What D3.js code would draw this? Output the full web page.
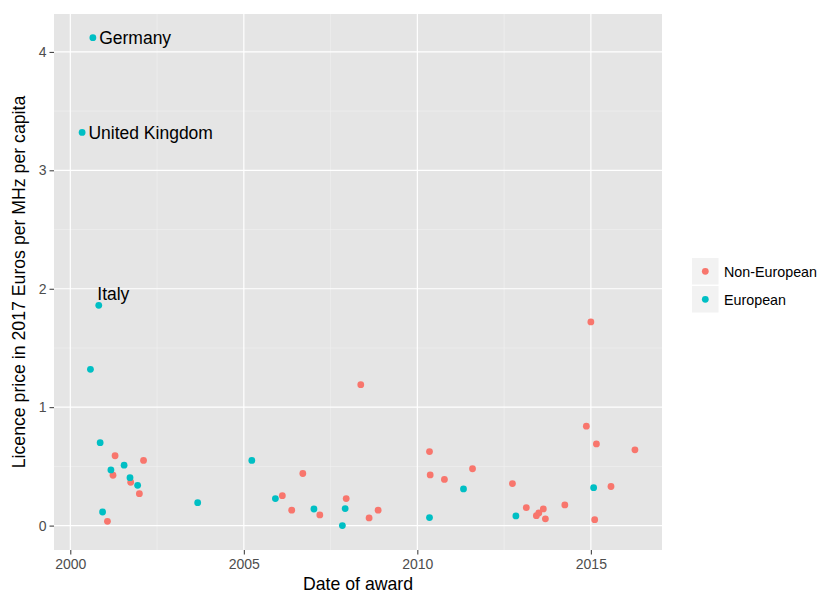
<!DOCTYPE html>
<html>
<head>
<meta charset="utf-8">
<script src="https://cdn.jsdelivr.net/npm/d3@7"></script>
<style>
  body { margin: 0; background: #fff; }
  text { font-family: "Liberation Sans", Arial, Helvetica, sans-serif; }
</style>
</head>
<body>
<div id="chart"></div>
<script>
// data (decimal year of award, price)
const euroYears  = [2000.65, 2000.34, 2000.82, 2000.58, 2000.86, 2001.17, 2001.55, 2001.72, 2001.94, 2000.93,
                    2003.67, 2005.23, 2005.91, 2007.02, 2007.92, 2007.84, 2010.35, 2011.33, 2012.84, 2015.08];
const euroPrices = [4.12, 3.32, 1.86, 1.32, 0.70, 0.47, 0.51, 0.405, 0.34, 0.115,
                    0.194, 0.55, 0.228, 0.14, 0.144, 0.0, 0.068, 0.31, 0.082, 0.32];
const euroNames  = ['Germany', 'United Kingdom', 'Italy'];

const nonEuroYears  = [2001.29, 2001.23, 2001.74, 2001.99, 2002.11, 2001.07, 2006.11, 2006.38, 2006.70, 2007.19,
                       2008.37, 2007.95, 2008.61, 2008.87, 2010.35, 2010.37, 2010.78, 2011.59, 2012.74, 2013.14,
                       2013.43, 2013.50, 2013.63, 2013.69, 2014.25, 2014.87, 2015.16, 2015.11, 2015.58, 2016.27, 2015.00];
const nonEuroPrices = [0.59, 0.425, 0.366, 0.27, 0.55, 0.036, 0.253, 0.13, 0.44, 0.09,
                       1.19, 0.228, 0.065, 0.13, 0.625, 0.428, 0.39, 0.48, 0.355, 0.152,
                       0.084, 0.107, 0.141, 0.057, 0.175, 0.84, 0.69, 0.05, 0.33, 0.64, 1.72];

const groups = ['Non-European', 'European'];
const groupColors = ['#F8766D', '#00BFC4'];
const xTicks = [2000, 2005, 2010, 2015];
const xMinor = [2002.5, 2007.5, 2012.5];
const yTicks = [0, 1, 2, 3, 4];
const yMinor = [0.5, 1.5, 2.5, 3.5];

const w = 818, h = 592;
const panel = { left: 54, right: 662, top: 14, bottom: 550 };

const svg = d3.select('#chart')
  .append('svg')
  .attr('width', w)
  .attr('height', h)
  .style('background-color', '#fff');

const xScale = d3.scaleLinear().domain([1999.53, 2017.05]).range([panel.left, panel.right]);
const yScale = d3.scaleLinear().domain([-0.206, 4.32]).range([panel.bottom, panel.top]);
const color = d3.scaleOrdinal().domain(groups).range(groupColors);

// panel background
svg.append('rect')
  .attr('x', panel.left).attr('y', panel.top)
  .attr('width', panel.right - panel.left)
  .attr('height', panel.bottom - panel.top)
  .attr('fill', '#E5E5E5');

// grid
const grid = svg.append('g');
grid.selectAll('.xminor').data(xMinor).enter().append('line')
  .attr('x1', d => xScale(d)).attr('x2', d => xScale(d))
  .attr('y1', panel.top).attr('y2', panel.bottom)
  .attr('stroke', '#F2F2F2').attr('stroke-width', 0.6);
grid.selectAll('.yminor').data(yMinor).enter().append('line')
  .attr('y1', d => yScale(d)).attr('y2', d => yScale(d))
  .attr('x1', panel.left).attr('x2', panel.right)
  .attr('stroke', '#F2F2F2').attr('stroke-width', 0.6);
grid.selectAll('.xmajor').data(xTicks).enter().append('line')
  .attr('x1', d => xScale(d)).attr('x2', d => xScale(d))
  .attr('y1', panel.top).attr('y2', panel.bottom)
  .attr('stroke', '#fff').attr('stroke-width', 1.2);
grid.selectAll('.ymajor').data(yTicks).enter().append('line')
  .attr('y1', d => yScale(d)).attr('y2', d => yScale(d))
  .attr('x1', panel.left).attr('x2', panel.right)
  .attr('stroke', '#fff').attr('stroke-width', 1.2);

// axes
const xAxis = d3.axisBottom(xScale).tickValues(xTicks).tickFormat(d3.format('d')).tickSizeInner(4.5).tickSizeOuter(0).tickPadding(4.5);
const yAxis = d3.axisLeft(yScale).tickValues(yTicks).tickFormat(d3.format('d')).tickSizeInner(4.5).tickSizeOuter(0).tickPadding(3);

svg.append('g')
  .attr('transform', 'translate(0,' + panel.bottom + ')')
  .call(xAxis)
  .call(g => g.select('.domain').remove())
  .call(g => g.selectAll('line').attr('stroke', '#333'))
  .call(g => g.selectAll('text').attr('fill', '#4D4D4D').style('font-size', '14px'));

svg.append('g')
  .attr('transform', 'translate(' + panel.left + ',0)')
  .call(yAxis)
  .call(g => g.select('.domain').remove())
  .call(g => g.selectAll('line').attr('stroke', '#333'))
  .call(g => g.selectAll('text').attr('fill', '#4D4D4D').style('font-size', '14px'));

// axis titles
svg.append('text')
  .attr('x', (panel.left + panel.right) / 2)
  .attr('y', 589.5)
  .attr('text-anchor', 'middle')
  .style('font-size', '17.7px')
  .text('Date of award');

svg.append('text')
  .attr('transform', 'translate(25,' + ((panel.top + panel.bottom) / 2) + ') rotate(-90)')
  .attr('text-anchor', 'middle')
  .style('font-size', '17.7px')
  .text('Licence price in 2017 Euros per MHz per capita');

// points
const nonEuro = nonEuroYears.map((y, i) => ({ year: y, price: nonEuroPrices[i], group: 'Non-European' }));
const euro = euroYears.map((y, i) => ({ year: y, price: euroPrices[i], group: 'European', name: euroNames[i] }));

svg.append('g').selectAll('circle')
  .data(nonEuro.concat(euro))
  .enter()
  .append('circle')
  .attr('cx', d => xScale(d.year))
  .attr('cy', d => yScale(d.price))
  .attr('r', 3.4)
  .attr('fill', d => color(d.group));

// country labels
svg.append('g').selectAll('text')
  .data(euro.filter(d => d.name))
  .enter()
  .append('text')
  .attr('x', d => xScale(d.year) + (d.name === 'Italy' ? -1.5 : 6.3))
  .attr('y', d => yScale(d.price) + (d.name === 'Italy' ? -5 : 6.5))
  .style('font-size', '17.5px')
  .attr('fill', '#000')
  .text(d => d.name);

// legend
const legend = svg.append('g').attr('transform', 'translate(692,258)');
const keys = legend.selectAll('g').data(groups).enter().append('g')
  .attr('transform', (d, i) => 'translate(0,' + (i * 28) + ')');
keys.append('rect')
  .attr('width', 26.5).attr('height', 26.5)
  .attr('fill', '#F2F2F2');
keys.append('circle')
  .attr('cx', 13.3).attr('cy', 13.3).attr('r', 3.4)
  .attr('fill', d => color(d));
keys.append('text')
  .attr('x', 32).attr('y', 14)
  .attr('dominant-baseline', 'central')
  .style('font-size', '14.3px')
  .text(d => d);
</script>
</body>
</html>
